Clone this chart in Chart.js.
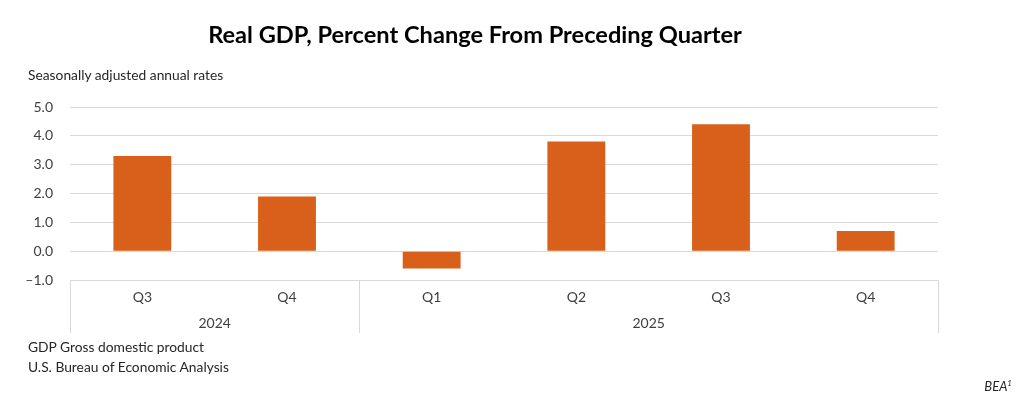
<!DOCTYPE html>
<html>
<head>
<meta charset="utf-8">
<title>Real GDP, Percent Change From Preceding Quarter</title>
<script src="https://cdn.jsdelivr.net/npm/chart.js@4.4.1/dist/chart.umd.min.js"></script>
<style>
    html, body { margin: 0; padding: 0; background: #fff; }
    #wrap { position: relative; width: 1024px; height: 401px; overflow: hidden; font-family: Lato, 'Open Sans', sans-serif; }
    #gdpChart { position: absolute; left: 0; top: 0; }
    .txt { position: absolute; white-space: nowrap; color: #262626; }
    #title { left: 0; width: 950px; top: 20px; text-align: center; font-weight: bold; font-size: 23.6px; color: #000; }
    #subtitle { left: 28px; top: 66px; font-size: 13.8px; }
    #note1 { left: 28px; top: 338px; font-size: 13.8px; }
    #note2 { left: 28px; top: 358px; font-size: 13.8px; }
    #bea { right: 12px; top: 378px; font-size: 13px; font-style: italic; }
    #bea sup { font-size: 8px; }
</style>
</head>
<body>
<div id="wrap">
    <canvas id="gdpChart" width="1024" height="401"></canvas>
    <div class="txt" id="title">Real GDP, Percent Change From Preceding Quarter</div>
    <div class="txt" id="subtitle">Seasonally adjusted annual rates</div>
    <div class="txt" id="note1">GDP Gross domestic product</div>
    <div class="txt" id="note2">U.S. Bureau of Economic Analysis</div>
    <div class="txt" id="bea">BEA<sup>1</sup></div>
</div>
<script>
// Chart data
const quarters = ['Q3', 'Q4', 'Q1', 'Q2', 'Q3', 'Q4'];
const years = ['2024', '2024', '2025', '2025', '2025', '2025'];
const gdpChange = [3.3, 1.9, -0.6, 3.8, 4.4, 0.7];
const yTicks = [-1, 0, 1, 2, 3, 4, 5];

const barColor = '#D9601A';
const gridColor = '#d9d9d9';
const textColor = '#404040';

// Year groups under the quarter labels, with separator lines
const yearGroups = {
    id: 'yearGroups',
    afterDraw(chart) {
        const { ctx, chartArea, scales: { x } } = chart;
        const half = (x.getPixelForValue(1) - x.getPixelForValue(0)) / 2;
        const top = chartArea.bottom;
        const bottom = chartArea.bottom + 53;

        ctx.save();
        ctx.strokeStyle = gridColor;
        ctx.lineWidth = 1;
        ctx.fillStyle = textColor;
        ctx.font = '14px Lato, "Open Sans", sans-serif';
        ctx.textAlign = 'center';
        ctx.textBaseline = 'middle';

        let start = 0;
        for (let i = 1; i <= years.length; i++) {
            if (i === years.length || years[i] !== years[start]) {
                const left = x.getPixelForValue(start) - half;
                const right = x.getPixelForValue(i - 1) + half;
                [left, right].forEach(px => {
                    const p = Math.round(px) + 0.5;
                    ctx.beginPath();
                    ctx.moveTo(p, top);
                    ctx.lineTo(p, bottom);
                    ctx.stroke();
                });
                const mid = (x.getPixelForValue(start) + x.getPixelForValue(i - 1)) / 2;
                ctx.fillText(years[start], mid, top + 43);
                start = i;
            }
        }
        ctx.restore();
    }
};

const ctx = document.getElementById('gdpChart').getContext('2d');

new Chart(ctx, {
    type: 'bar',
    data: {
        labels: quarters,
        datasets: [{
            label: 'Real GDP',
            data: gdpChange,
            backgroundColor: barColor,
            borderWidth: 0,
            barPercentage: 0.4,
            categoryPercentage: 1.0
        }]
    },
    options: {
        responsive: false,
        animation: false,
        layout: {
            padding: { left: 0, top: 107, right: 86, bottom: 66 }
        },
        plugins: {
            legend: { display: false },
            tooltip: { enabled: false }
        },
        scales: {
            x: {
                grid: { display: false, drawTicks: false },
                border: { display: false },
                ticks: {
                    color: textColor,
                    font: { family: 'Lato, "Open Sans", sans-serif', size: 14 },
                    padding: 9
                },
                afterFit(scale) { scale.height = 55; }
            },
            y: {
                min: yTicks[0],
                max: yTicks[yTicks.length - 1],
                afterBuildTicks(scale) {
                    scale.ticks = yTicks.map(v => ({ value: v }));
                },
                grid: { color: gridColor, drawTicks: false },
                border: { display: false },
                ticks: {
                    color: textColor,
                    font: { family: 'Lato, "Open Sans", sans-serif', size: 14 },
                    padding: 17,
                    callback: v => (v < 0 ? '\u2013' + Math.abs(v).toFixed(1) : v.toFixed(1))
                },
                afterFit(scale) { scale.width = 70; }
            }
        }
    },
    plugins: [yearGroups]
});
</script>
</body>
</html>
